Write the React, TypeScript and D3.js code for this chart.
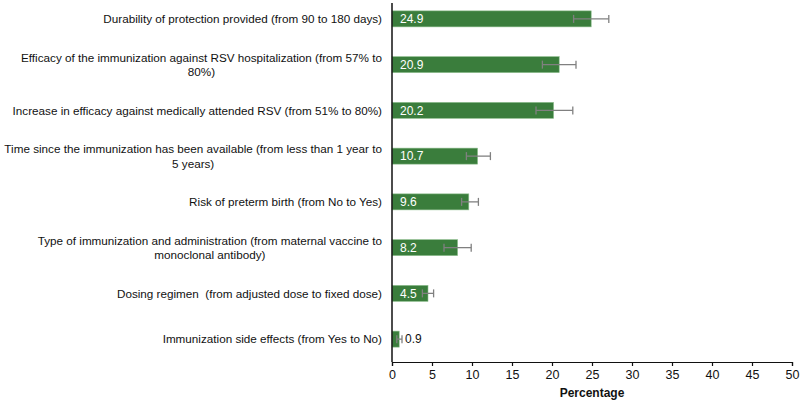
import React, { useEffect, useRef } from 'react';
import * as d3 from 'd3';

const categories = [
  'Durability of protection provided (from 90 to 180 days)',
  'Efficacy of the immunization against RSV hospitalization (from 57% to|80%)',
  'Increase in efficacy against medically attended RSV (from 51% to 80%)',
  'Time since the immunization has been available (from less than 1 year to|5 years)',
  'Risk of preterm birth (from No to Yes)',
  'Type of immunization and administration (from maternal vaccine to|monoclonal antibody)',
  'Dosing regimen  (from adjusted dose to fixed dose)',
  'Immunization side effects (from Yes to No)',
];
const values = [24.9, 20.9, 20.2, 10.7, 9.6, 8.2, 4.5, 0.9];
const lower = [22.7, 18.8, 18.0, 9.3, 8.7, 6.5, 3.8, 0.6];
const upper = [27.1, 23.0, 22.6, 12.3, 10.8, 9.9, 5.2, 1.25];
const xTicks = [0, 5, 10, 15, 20, 25, 30, 35, 40, 45, 50];

const font = 'Arial, "Liberation Sans", sans-serif';

const App: React.FC = () => {
  const ref = useRef<SVGSVGElement>(null);

  useEffect(() => {
    if (!ref.current) return;
    const svg = d3.select(ref.current);
    svg.selectAll('*').remove();

    const x = d3.scaleLinear().domain([0, 50]).range([392, 792]);
    const y = d3.scaleBand<number>()
      .domain(d3.range(categories.length))
      .range([-4, 362])
      .paddingInner(0.65)
      .paddingOuter(0.325);

    const g = svg.append('g');

    // bars
    g.selectAll('rect.bar')
      .data(values)
      .enter()
      .append('rect')
      .attr('class', 'bar')
      .attr('x', x(0))
      .attr('y', (d, i) => y(i)!)
      .attr('width', d => x(d) - x(0))
      .attr('height', y.bandwidth())
      .attr('fill', '#3a7d3c')
      .attr('stroke', '#8fbf8f')
      .attr('stroke-width', 0.6);

    // error bars
    const cap = 4;
    values.forEach((v, i) => {
      const cy = y(i)! + y.bandwidth() / 2;
      const eb = g.append('g').attr('stroke', '#808080').attr('stroke-width', 1.3);
      eb.append('line').attr('x1', x(lower[i])).attr('x2', x(upper[i])).attr('y1', cy).attr('y2', cy);
      eb.append('line').attr('x1', x(lower[i])).attr('x2', x(lower[i])).attr('y1', cy - cap).attr('y2', cy + cap);
      eb.append('line').attr('x1', x(upper[i])).attr('x2', x(upper[i])).attr('y1', cy - cap).attr('y2', cy + cap);
    });

    // value labels
    g.selectAll('text.val')
      .data(values)
      .enter()
      .append('text')
      .attr('class', 'val')
      .attr('x', (d, i) => (d < 2 ? x(upper[i]) + 3 : x(0) + 8))
      .attr('y', (d, i) => y(i)! + y.bandwidth() / 2)
      .attr('dy', '0.36em')
      .attr('fill', d => (d < 2 ? '#111' : '#fff'))
      .style('font', `12px ${font}`)
      .text(d => d.toFixed(1));

    // category labels
    const labelRight = 382;
    categories.forEach((c, i) => {
      const lines = c.split('|');
      const cy = y(i)! + y.bandwidth() / 2;
      const lh = 14.5;
      const t0 = g.append('text')
        .attr('x', labelRight)
        .attr('y', cy - ((lines.length - 1) * lh) / 2)
        .attr('dy', '0.36em')
        .attr('text-anchor', 'end')
        .attr('fill', '#111')
        .style('font', `11.7px ${font}`)
        .style('white-space', 'pre')
        .text(lines[0]);
      if (lines.length > 1) {
        const w = (t0.node() as SVGTextElement).getComputedTextLength();
        g.append('text')
          .attr('x', labelRight - w / 2)
          .attr('y', cy + ((lines.length - 1) * lh) / 2)
          .attr('dy', '0.36em')
          .attr('text-anchor', 'middle')
          .attr('fill', '#111')
          .style('font', `11.7px ${font}`)
          .text(lines[1]);
      }
    });

    // x axis
    const xAxis = g.append('g')
      .attr('transform', 'translate(0,362)')
      .call(d3.axisBottom(x).tickValues(xTicks).tickSize(4).tickPadding(4));
    xAxis.select('.domain').attr('stroke', '#111').attr('stroke-width', 1.2);
    xAxis.selectAll('.tick line').attr('stroke', '#111').attr('stroke-width', 1.2);
    xAxis.selectAll('.tick text')
      .attr('fill', '#111')
      .style('font', `12.5px ${font}`);

    // y axis line
    g.append('line')
      .attr('x1', x(0)).attr('x2', x(0))
      .attr('y1', 3).attr('y2', 362)
      .attr('stroke', '#111')
      .attr('stroke-width', 1.5);

    g.append('text')
      .attr('x', (x(0) + x(50)) / 2)
      .attr('y', 397)
      .attr('text-anchor', 'middle')
      .attr('fill', '#111')
      .style('font', `bold 12px ${font}`)
      .text('Percentage');
  }, []);

  return (
    <svg
      ref={ref}
      width={800}
      height={401}
      style={{ position: 'absolute', left: 0, top: 0, background: '#fff' }}
    ></svg>
  );
};

export default App;
